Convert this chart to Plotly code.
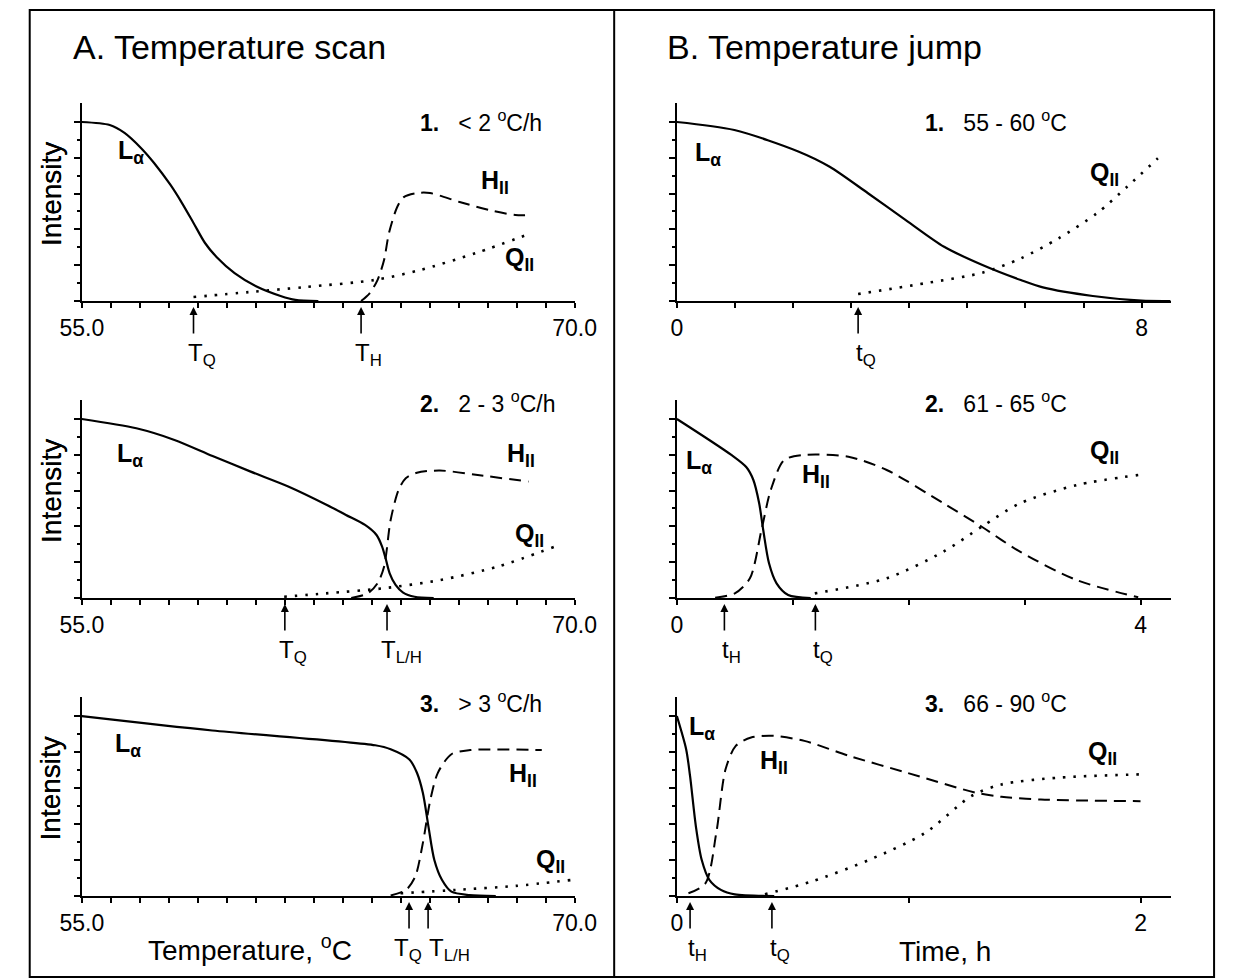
import plotly.graph_objects as go

W, H = 1238, 979
FONT = "Liberation Sans, Arial, Helvetica, sans-serif"

# ---------------- data: temperature scan (A) ----------------
a1_L_T = [55.0, 55.85, 56.3, 56.8, 57.2, 57.7, 58.05, 58.4, 58.75, 59.1, 59.65, 60.35, 61.05, 61.5, 62.2]
a1_L_I = [100, 98.3, 93.9, 85.5, 77.1, 64.8, 54.7, 43.6, 32.4, 24.6, 15.6, 7.8, 2.8, 0.6, 0]
a1_H_T = [63.5, 63.76, 64.0, 64.2, 64.35, 64.6, 64.8, 65.2, 65.6, 66.5, 67.4, 68.2, 68.7]
a1_H_I = [0, 4.3, 11.7, 22.9, 38, 52.5, 58, 60.3, 60.3, 55.3, 50.8, 48, 48]
a1_Q_T = [58.4, 60.1, 61.8, 63.9, 65.3, 67.0, 68.7]
a1_Q_I = [2.2, 5, 7.8, 11.7, 17.3, 26.8, 38]

a2_L_T = [55.0, 56.66, 57.82, 58.98, 60.14, 61.3, 62.46, 63.04, 63.62, 63.97, 64.14, 64.26, 64.37, 64.55, 64.78, 65.13, 65.71]
a2_L_I = [100, 94.8, 88.3, 79.3, 70.6, 62.2, 52, 46.4, 40.8, 35.2, 28.7, 21.2, 13.8, 7.3, 3, 0.7, 0]
a2_H_T = [63.2, 63.7, 64.0, 64.2, 64.4, 64.64, 64.86, 65.2, 65.9, 67.05, 68.6]
a2_H_I = [0, 2.6, 8.2, 17.5, 43.6, 60.3, 66.9, 70, 71.2, 68.7, 65]
a2_Q_T = [61.16, 62.43, 64.17, 65.9, 67.65, 69.4]
a2_Q_I = [0.7, 2.6, 5.4, 10, 17.5, 28.7]

a3_L_T = [55.0, 58.97, 63.93, 64.4, 64.97, 65.2, 65.38, 65.55, 65.73, 65.96, 66.25, 66.8, 67.6]
a3_L_I = [100, 92, 83.8, 81.6, 75.9, 68.5, 57.4, 38.7, 20, 9, 2.4, 0.5, 0]
a3_H_T = [64.4, 64.87, 65.15, 65.38, 65.61, 65.84, 66.25, 66.82, 69.0]
a3_H_I = [0.3, 3.4, 10.9, 29.4, 53.6, 68.6, 78.8, 81.1, 81.1]
a3_Q_T = [64.7, 66.4, 68.2, 69.9]
a3_Q_I = [1.5, 3.4, 5.6, 8.9]

# ---------------- data: temperature jump (B) ----------------
b1_L_t = [0, 0.99, 2.1, 2.63, 3.29, 3.94, 4.6, 5.26, 5.92, 6.3, 7.16, 8.0, 8.5]
b1_L_I = [100, 95.5, 83.4, 75, 60.2, 45.2, 30.3, 20.1, 11.7, 7.6, 2.8, 0.2, 0]
b1_Q_t = [3.12, 4.27, 5.26, 5.92, 6.57, 7.23, 7.75, 8.28]
b1_Q_I = [3.9, 9.9, 15.8, 23.8, 35, 49, 63.8, 79.7]

b2_L_t = [0, 0.47, 0.6, 0.66, 0.71, 0.745, 0.795, 0.86, 0.96, 1.155]
b2_L_I = [100, 79.9, 73, 65.9, 52.9, 38, 19.4, 8.2, 1.7, 0]
b2_H_t = [0.33, 0.5, 0.63, 0.73, 0.81, 0.925, 1.09, 1.48, 1.81, 2.3, 2.63, 2.96, 3.45, 3.98]
b2_H_I = [0.2, 2.6, 11, 38, 60.3, 77, 79.9, 78.9, 71.5, 52.9, 39.8, 25.9, 10, 0.4]
b2_Q_t = [1.19, 1.81, 2.3, 2.63, 2.96, 3.45, 3.98]
b2_Q_I = [2.6, 11, 25.9, 39.8, 52.9, 63.1, 68.7]

b3_L_t = [0, 0.04, 0.057, 0.082, 0.107, 0.14, 0.19, 0.25, 0.42]
b3_L_I = [100, 81.6, 66.6, 38.7, 20.1, 9, 3.4, 0.9, 0]
b3_H_t = [0.05, 0.123, 0.17, 0.21, 0.254, 0.32, 0.417, 0.55, 0.745, 0.99, 1.29, 1.4, 1.57, 2.0]
b3_H_I = [1.5, 7, 35, 70.4, 83.4, 88.1, 89, 86.2, 77.8, 68.6, 57.4, 55.1, 53.6, 52.7]
b3_Q_t = [0.38, 0.58, 0.83, 1.07, 1.27, 1.4, 1.65, 2.0]
b3_Q_I = [1, 8, 20.1, 35, 55.5, 62, 65.8, 67.6]

# transition markers: (position, symbol, subscript, label shift in px)
a1_marks = [(58.4, "T", "Q", 0), (63.5, "T", "H", 0)]
a2_marks = [(61.18, "T", "Q", 0), (64.29, "T", "L/H", 0)]
a3_marks = [(64.96, "T", "Q", -9), (65.54, "T", "L/H", 7)]
b1_marks = [(3.12, "t", "Q", 0)]
b2_marks = [(0.41, "t", "H", 0), (1.195, "t", "Q", 0)]
b3_marks = [(0.057, "t", "H", 0), (0.41, "t", "Q", 0)]

headings = [
    "<b>1.</b>&nbsp;&nbsp; &lt; 2 <sup>o</sup>C/h",
    "<b>2.</b>&nbsp;&nbsp; 2 - 3 <sup>o</sup>C/h",
    "<b>3.</b>&nbsp;&nbsp; &gt; 3 <sup>o</sup>C/h",
    "<b>1.</b>&nbsp;&nbsp; 55 - 60 <sup>o</sup>C",
    "<b>2.</b>&nbsp;&nbsp; 61 - 65 <sup>o</sup>C",
    "<b>3.</b>&nbsp;&nbsp; 66 - 90 <sup>o</sup>C",
]

# ---------------- layout geometry (pixels) ----------------
def px(x):
    return x / W


def py(y):
    return 1 - y / H


COL_X = [(62, 573), (679, 1191)]
ROW_Y = [(103, 301), (400, 598), (697, 896)]
Y_TOP = 110.6

a_ticks = [55 + k * 15 / 17 for k in range(18)]
a_text = ["55.0"] + [""] * 16 + ["70.0"]

panels = [
    dict(col=0, row=0, xr=[55, 70], tv=a_ticks, tt=a_text,
         L=(a1_L_T, a1_L_I), Hc=(a1_H_T, a1_H_I), Q=(a1_Q_T, a1_Q_I), marks=a1_marks,
         lab=dict(L=(97, 152), H=(474, 182), Q=(499, 259))),
    dict(col=0, row=1, xr=[55, 70], tv=a_ticks, tt=a_text,
         L=(a2_L_T, a2_L_I), Hc=(a2_H_T, a2_H_I), Q=(a2_Q_T, a2_Q_I), marks=a2_marks,
         lab=dict(L=(96, 455), H=(501, 455), Q=(509, 535))),
    dict(col=0, row=2, xr=[55, 70], tv=a_ticks, tt=a_text,
         L=(a3_L_T, a3_L_I), Hc=(a3_H_T, a3_H_I), Q=(a3_Q_T, a3_Q_I), marks=a3_marks,
         lab=dict(L=(94, 745), H=(503, 775), Q=(531, 861))),
    dict(col=1, row=0, xr=[0, 8.5], tv=list(range(9)), tt=["0"] + [""] * 7 + ["8"],
         L=(b1_L_t, b1_L_I), Hc=None, Q=(b1_Q_t, b1_Q_I), marks=b1_marks,
         lab=dict(L=(696, 154), Q=(1105, 174))),
    dict(col=1, row=1, xr=[0, 4.26], tv=list(range(5)), tt=["0", "", "", "", "4"],
         L=(b2_L_t, b2_L_I), Hc=(b2_H_t, b2_H_I), Q=(b2_Q_t, b2_Q_I), marks=b2_marks,
         lab=dict(L=(686, 462), H=(807, 476), Q=(1105, 452))),
    dict(col=1, row=2, xr=[0, 2.13], tv=[0, 1, 2], tt=["0", "", "2"],
         L=(b3_L_t, b3_L_I), Hc=(b3_H_t, b3_H_I), Q=(b3_Q_t, b3_Q_I), marks=b3_marks,
         lab=dict(L=(690, 728), H=(763, 762), Q=(1103, 753))),
]

fig = go.Figure()
annotations = []
layout_axes = {}

for i, p in enumerate(panels, start=1):
    xa = "x" if i == 1 else f"x{i}"
    ya = "y" if i == 1 else f"y{i}"
    x0, x1 = COL_X[p["col"]]
    ytop, ybase = ROW_Y[p["row"]]

    layout_axes["xaxis" if i == 1 else f"xaxis{i}"] = dict(
        domain=[px(x0), px(x1)], anchor=ya, range=p["xr"],
        showline=True, linecolor="black", linewidth=2, mirror=False,
        showgrid=False, zeroline=False,
        tickmode="array", tickvals=p["tv"], ticktext=p["tt"],
        ticks="outside", ticklen=5, tickwidth=2, tickcolor="black",
        tickfont=dict(family=FONT, size=23, color="black"),
    )
    layout_axes["yaxis" if i == 1 else f"yaxis{i}"] = dict(
        domain=[py(ybase), py(ytop)], anchor=xa, range=[0, Y_TOP],
        showline=True, linecolor="black", linewidth=2,
        showgrid=False, zeroline=False, showticklabels=False,
        tickmode="array", tickvals=[0, 20, 40, 60, 80, 100],
        ticks="outside", ticklen=6, tickwidth=2, tickcolor="black",
        minor=dict(tickmode="array", tickvals=[10, 30, 50, 70, 90],
                   ticks="outside", ticklen=3, tickwidth=1.5, tickcolor="black"),
    )

    # curves
    fig.add_trace(go.Scatter(x=p["L"][0], y=p["L"][1], xaxis=xa, yaxis=ya, mode="lines",
                             line=dict(color="black", width=2.2, shape="spline", smoothing=0.8),
                             showlegend=False, hoverinfo="skip"))
    if p["Hc"] is not None:
        fig.add_trace(go.Scatter(x=p["Hc"][0], y=p["Hc"][1], xaxis=xa, yaxis=ya, mode="lines",
                                 line=dict(color="black", width=2, dash="12px,7px",
                                           shape="spline", smoothing=0.8),
                                 showlegend=False, hoverinfo="skip"))
    fig.add_trace(go.Scatter(x=p["Q"][0], y=p["Q"][1], xaxis=xa, yaxis=ya, mode="lines",
                             line=dict(color="black", width=2.6, dash="2.5px,8px",
                                       shape="spline", smoothing=0.8),
                             showlegend=False, hoverinfo="skip"))

    # arrows and transition labels
    for (xv, base, sub, shift) in p["marks"]:
        annotations.append(dict(xref=xa, yref=ya, x=xv, y=0, text="", showarrow=True,
                                ax=0, ay=34, standoff=6, arrowhead=2, arrowsize=1,
                                arrowwidth=1.6, arrowcolor="black"))
        annotations.append(dict(xref=xa, yref="paper", x=xv, y=py(ybase + 36),
                                xanchor="left", yanchor="top",
                                xshift=(-8 if base == "T" else -4) + shift,
                                text=f"{base}<sub>{sub}</sub>", showarrow=False,
                                font=dict(family=FONT, size=24, color="black")))

    # curve labels
    texts = dict(L="<b>L</b><sub><b>α</b></sub>",
                 H="<b>H</b><sub><b>II</b></sub>",
                 Q="<b>Q</b><sub><b>II</b></sub>")
    for key, (lx, ly) in p["lab"].items():
        annotations.append(dict(xref="paper", yref="paper", x=px(lx), y=py(ly),
                                xanchor="left", yanchor="middle", text=texts[key],
                                showarrow=False, font=dict(family=FONT, size=25, color="black")))

    # heading of the panel
    hx = 411 if p["col"] == 0 else 934
    hy = [121, 402, 702][p["row"]]
    annotations.append(dict(xref="paper", yref="paper", x=px(hx), y=py(hy),
                            xanchor="left", yanchor="middle", text=headings[i - 1],
                            showarrow=False, font=dict(family=FONT, size=23, color="black")))

    # y axis title
    annotations.append(dict(xref="paper", yref="paper", x=px(30), y=py((ytop + ybase) / 2 - 8),
                            xanchor="center", yanchor="middle", text="Intensity", textangle=-90,
                            showarrow=False, font=dict(family=FONT, size=28, color="black")))

# column titles
annotations.append(dict(xref="paper", yref="paper", x=px(51), y=py(47), xanchor="left",
                        yanchor="middle", text="A. Temperature scan", showarrow=False,
                        font=dict(family=FONT, size=34, color="black")))
annotations.append(dict(xref="paper", yref="paper", x=px(667), y=py(47), xanchor="left",
                        yanchor="middle", text="B. Temperature jump", showarrow=False,
                        font=dict(family=FONT, size=34, color="black")))

# bottom axis titles
annotations.append(dict(xref="paper", yref="paper", x=px(236), y=py(948), xanchor="center",
                        yanchor="middle", text="Temperature, <sup>o</sup>C", showarrow=False,
                        font=dict(family=FONT, size=28, color="black")))
annotations.append(dict(xref="paper", yref="paper", x=px(957), y=py(951), xanchor="center",
                        yanchor="middle", text="Time, h", showarrow=False,
                        font=dict(family=FONT, size=28, color="black")))

shapes = [
    dict(type="rect", xref="paper", yref="paper", x0=px(8), y0=py(977), x1=px(1236), y1=py(10),
         line=dict(color="black", width=2)),
    dict(type="line", xref="paper", yref="paper", x0=px(614), y0=py(977), x1=px(614), y1=py(10),
         line=dict(color="black", width=2)),
]

fig.update_layout(
    width=W, height=H, margin=dict(l=0, r=0, t=0, b=0),
    paper_bgcolor="white", plot_bgcolor="white",
    annotations=annotations, shapes=shapes, showlegend=False,
    font=dict(family=FONT, color="black"),
    **layout_axes,
)

fig.write_html("out.html")
